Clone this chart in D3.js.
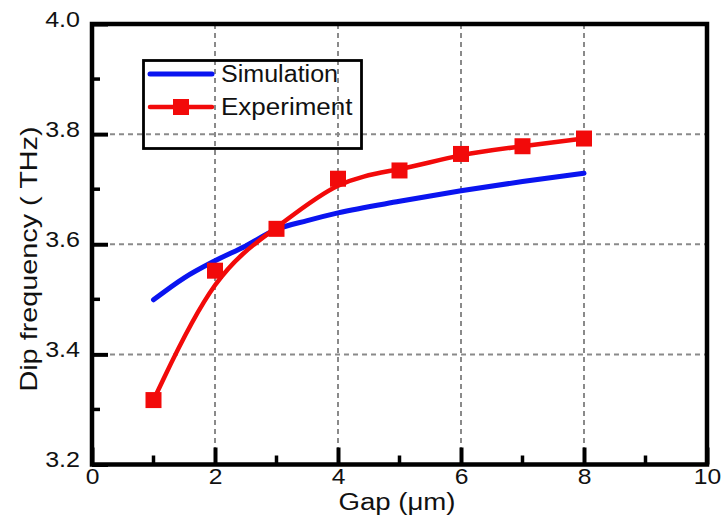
<!DOCTYPE html>
<html><head><meta charset="utf-8">
<script src="https://cdn.jsdelivr.net/npm/d3@7"></script>
<style>
html,body{margin:0;padding:0;background:#fff;}
text{font-family:"Liberation Sans",Arial,sans-serif;fill:#111;}
</style></head>
<body><svg id="c" width="724" height="521"></svg>
<script>
// ---- data ----
const gapSim = [1, 1.5, 2, 2.5, 3, 3.5, 4, 5, 6, 7, 8];
const freqSim = [3.499, 3.539, 3.570, 3.597, 3.627, 3.643, 3.657, 3.678, 3.697, 3.714, 3.729];
const gapExp = [1, 2, 3, 4, 5, 6, 7, 8];
const freqExp = [3.317, 3.552, 3.628, 3.719, 3.734, 3.764, 3.778, 3.792];
const xTicks = [0, 2, 4, 6, 8, 10];
const xMinor = [1, 3, 5, 7, 9];
const yTicks = [3.2, 3.4, 3.6, 3.8, 4.0];
const yMinor = [3.3, 3.5, 3.7, 3.9];
const seriesNames = ["Simulation", "Experiment"];
const xTitle = "Gap (\u03bcm)";
const yTitle = "Dip frequency ( THz)";

const svg = d3.select("#c");
const L = 92, R = 707, T = 24, B = 464.5;
const x = d3.scaleLinear().domain([0, 10]).range([L, R]);
const y = d3.scaleLinear().domain([3.2, 4.0]).range([B, T]);
const stretch = (sel, f) => sel.each(function(){
  const w = this.getComputedTextLength();
  d3.select(this).attr("textLength", w * f).attr("lengthAdjust", "spacingAndGlyphs");
});

// grid
const grid = svg.append("g").attr("stroke", "#8a8a8a").attr("stroke-width", 2).attr("stroke-dasharray", "5,4");
grid.selectAll(".gx").data(xTicks.filter(d => d > 0 && d < 10)).join("line")
  .attr("x1", d => x(d)).attr("x2", d => x(d)).attr("y1", T).attr("y2", B);
grid.selectAll(".gy").data(yTicks.filter(d => d > 3.2 && d < 4.0)).join("line")
  .attr("y1", d => y(d)).attr("y2", d => y(d)).attr("x1", L).attr("x2", R);

// axes
const xAx = svg.append("g").attr("transform", `translate(0,${B})`)
  .call(d3.axisBottom(x).tickValues(xTicks).tickSize(-17).tickFormat(d3.format("d")).tickPadding(4));
const yAx = svg.append("g").attr("transform", `translate(${L},0)`)
  .call(d3.axisLeft(y).tickValues(yTicks).tickSize(-16).tickFormat(d3.format(".1f")).tickPadding(12));
[xAx, yAx].forEach(a => {
  a.select(".domain").remove();
  a.selectAll("line").attr("stroke", "#000").attr("stroke-width", 4);
  a.selectAll("text").attr("font-size", 22).attr("fill", "#111")
    .attr("font-family", "'Liberation Sans',Arial,sans-serif");
});
xAx.selectAll("text").attr("dy", "0.71em").call(stretch, 1.12);
yAx.selectAll("text").attr("dy", "0.1em").call(stretch, 1.14);
svg.append("g").selectAll("line").data(xMinor).join("line")
  .attr("x1", d => x(d)).attr("x2", d => x(d)).attr("y1", B).attr("y2", B - 9)
  .attr("stroke", "#000").attr("stroke-width", 3.5);
svg.append("g").selectAll("line").data(yMinor).join("line")
  .attr("y1", d => y(d)).attr("y2", d => y(d)).attr("x1", L).attr("x2", L + 8)
  .attr("stroke", "#000").attr("stroke-width", 3.5);
svg.append("rect").attr("x", L).attr("y", T).attr("width", R - L).attr("height", B - T)
  .attr("fill", "none").attr("stroke", "#000").attr("stroke-width", 4.5);

// lines
const simData = gapSim.map((g, i) => [g, freqSim[i]]);
const expData = gapExp.map((g, i) => [g, freqExp[i]]);
svg.append("path").datum(simData)
  .attr("d", d3.line().x(d => x(d[0])).y(d => y(d[1])).curve(d3.curveMonotoneX))
  .attr("fill", "none").attr("stroke", "#0a14f0").attr("stroke-width", 5).attr("stroke-linecap", "round");
svg.append("path").datum(expData)
  .attr("d", d3.line().x(d => x(d[0])).y(d => y(d[1])).curve(d3.curveBasis))
  .attr("fill", "none").attr("stroke", "#f20a0a").attr("stroke-width", 4.5);
const ms = 16;
svg.append("g").selectAll("rect").data(expData).join("rect")
  .attr("x", d => x(d[0]) - ms / 2).attr("y", d => y(d[1]) - ms / 2)
  .attr("width", ms).attr("height", ms).attr("fill", "#f20a0a");

// legend
const lg = svg.append("g");
lg.append("rect").attr("x", 143.5).attr("y", 60.5).attr("width", 218).attr("height", 88)
  .attr("fill", "none").attr("stroke", "#000").attr("stroke-width", 2.8);
lg.append("line").attr("x1", 150).attr("x2", 212).attr("y1", 74).attr("y2", 74)
  .attr("stroke", "#0a14f0").attr("stroke-width", 5).attr("stroke-linecap", "round");
lg.append("line").attr("x1", 150).attr("x2", 212).attr("y1", 107).attr("y2", 107)
  .attr("stroke", "#f20a0a").attr("stroke-width", 4.5).attr("stroke-linecap", "round");
lg.append("rect").attr("x", 181 - 8).attr("y", 107 - 8).attr("width", 16).attr("height", 16).attr("fill", "#f20a0a");
lg.append("text").attr("x", 221).attr("y", 82).attr("font-size", 23).text(seriesNames[0]).call(stretch, 1.09);
lg.append("text").attr("x", 221).attr("y", 115).attr("font-size", 23).text(seriesNames[1]).call(stretch, 1.13);

// titles
svg.append("text").attr("x", 397).attr("y", 510).attr("text-anchor", "middle").attr("font-size", 23)
  .text(xTitle).call(stretch, 1.2);
svg.append("text").attr("transform", "translate(37,259) rotate(-90)").attr("text-anchor", "middle")
  .attr("font-size", 24).text(yTitle).call(stretch, 1.2);
</script></body></html>
